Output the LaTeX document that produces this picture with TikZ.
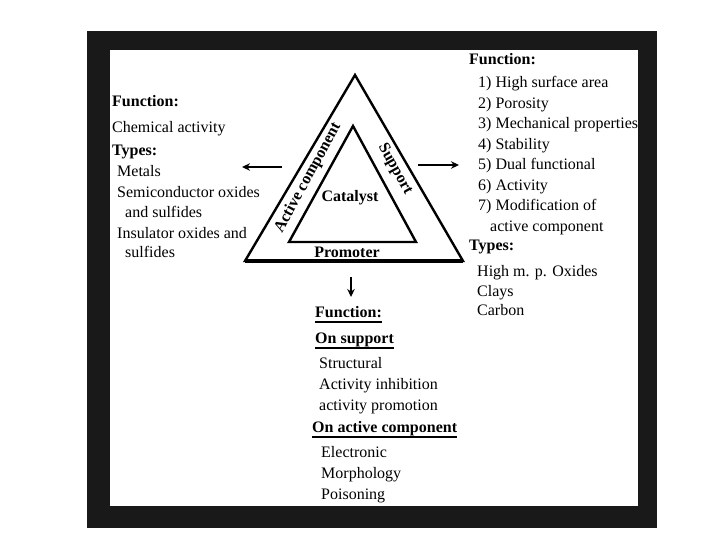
\documentclass[tikz,border=0pt]{standalone}
\usepackage{fontspec}
\setmainfont{Liberation Serif}
\usetikzlibrary{arrows.meta}
\newcommand\txtsize{\fontsize{16}{18}\selectfont}
\begin{document}
\begin{tikzpicture}[x=1pt, y=-1pt, >={Stealth[length=8pt,width=7.5pt]},
    txt/.style={anchor=base west, inner sep=0pt, font=\txtsize},
    hd/.style={txt, font=\txtsize\bfseries},
    tri/.style={line width=2.4pt},
    arr/.style={->, line width=1.8pt},
    uline/.style={line width=1.4pt}]
\useasboundingbox (0,0) rectangle (720,540);
\fill[black!90] (87,31) rectangle (657,528);
\fill[white] (110,50) rectangle (638,506);

% triangles
\draw[tri] (245,261)--(355,75)--(463,261)--cycle;
\draw[tri] (289,242)--(353,126)--(416,242)--cycle;
\draw[line width=3.4pt] (245,261)--(463,261);

\node[hd, anchor=center] (cat) at (350,198) {Catalyst};
\node[hd, anchor=center] (prom) at (347,252) {Promoter};
\node[hd, anchor=center, rotate=61.5] (act) at (308,178) {Active component};
\node[hd, anchor=center, rotate=-61] (sup) at (395,169) {Support};

% arrows
\coordinate (l0) at (282,167); \coordinate (l1) at (242,167);
\coordinate (r0) at (418,165); \coordinate (r1) at (459,165);
\coordinate (d0) at (351,277); \coordinate (d1) at (351,297);
\draw[arr](l0)--(l1);
\draw[arr](r0)--(r1);
\draw[arr](d0)--(d1);

% left
\node[hd] (lfun) at (112,107) {Function:};
\node[txt] (lchem) at (112,133) {Chemical activity};
\node[hd] (ltyp) at (112,156) {Types:};
\foreach \t/\x/\y [count=\i] in {Metals/117/177, Semiconductor oxides/117/198, and sulfides/125/218, Insulator oxides and/117/239, sulfides/125/258}
{
    \node[txt] (lt\i) at (\x,\y) {\t};
}

% right
\node[hd] (rfun) at (469,65) {Function:};
\foreach \t [count=\i] in {High surface area, Porosity, Mechanical properties, Stability, Dual functional, Activity, Modification of}
{
    \node[txt] (rf\i) at (478,{67.5+20.5*\i}) {\i) \t};
}
\node[txt] (rf8) at (490,231) {active component};
\node[hd] (rtyp) at (469,250) {Types:};
\foreach \t [count=\i] in {High m. p. Oxides, Clays, Carbon}
{
    \node[txt] (rt\i) at (477,{257+19.5*\i}) {\t};
}

% bottom
\node[hd] (bfun) at (315,317) {Function:};
\node[hd] (bsup) at (315,343) {On support};
\foreach \t [count=\i] in {Structural, Activity inhibition, activity promotion}
{
    \node[txt] (bs\i) at (319,{347+21*\i}) {\t};
}
\node[hd] (bact) at (312,432) {On active component};
\foreach \t [count=\i] in {Electronic, Morphology, Poisoning}
{
    \node[txt] (ba\i) at (321,{436+21*\i}) {\t};
}
\foreach \n in {bfun,bsup,bact}
    \draw[uline]([yshift=-5pt]\n.base west)--([yshift=-5pt]\n.base east);
\end{tikzpicture}
\end{document}
